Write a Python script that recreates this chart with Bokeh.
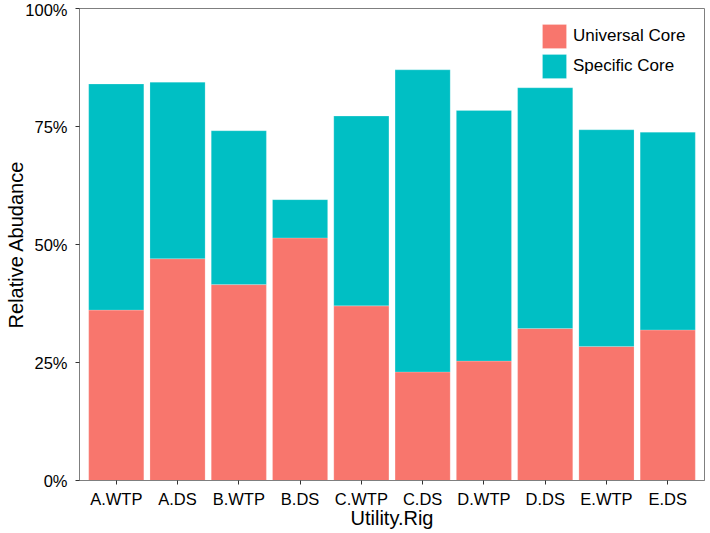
from bokeh.plotting import figure
from bokeh.models import (Range1d, FixedTicker, PrintfTickFormatter, ColumnDataSource, FactorRange,
                          Legend, LegendItem)
from bokeh.embed import file_html
from bokeh.resources import INLINE

categories = ["A.WTP", "A.DS", "B.WTP", "B.DS", "C.WTP", "C.DS", "D.WTP", "D.DS", "E.WTP", "E.DS"]
universal_core = [36.1, 47.0, 41.5, 51.4, 37.0, 23.0, 25.3, 32.2, 28.4, 31.9]
specific_core = [47.9, 37.4, 32.6, 8.1, 40.2, 64.0, 53.1, 51.0, 45.9, 41.9]
series_names = ["Universal Core", "Specific Core"]
series_colors = ["#F8766D", "#00BFC4"]
y_ticks = [0, 25, 50, 75, 100]
x_title = "Utility.Rig"
y_title = "Relative Abudance"

source = ColumnDataSource(dict(cat=categories, universal=universal_core, specific=specific_core))

FONT = "Liberation Sans"

p = figure(width=706, height=531, output_backend="svg", toolbar_location=None,
           x_range=FactorRange(*categories, range_padding=0.02),
           y_range=Range1d(0, 100))
p.min_border_left = 79
p.min_border_right = 2
p.min_border_top = 8
p.min_border_bottom = 51

renderers = p.vbar_stack(["universal", "specific"], x="cat", width=0.9, color=series_colors,
                         line_color="white", line_width=0.5, line_alpha=0.4, source=source)

legend = Legend(items=[LegendItem(label=series_names[i], renderers=[renderers[i]]) for i in range(2)])
legend.location = (460, 399)
legend.padding = 0
legend.spacing = 0
legend.margin = 0
legend.glyph_width = 30
legend.glyph_height = 30
legend.label_standoff = 4
legend.label_text_font = FONT
legend.label_text_font_size = "17px"
legend.label_text_color = "#000000"
legend.border_line_color = None
legend.background_fill_alpha = 0
p.add_layout(legend, "center")

p.xgrid.grid_line_color = None
p.ygrid.grid_line_color = None
p.outline_line_color = "#7f7f7f"
p.outline_line_width = 1

p.yaxis.ticker = FixedTicker(ticks=y_ticks)
p.yaxis.formatter = PrintfTickFormatter(format="%d%%")

for ax in (p.xaxis[0], p.yaxis[0]):
    ax.axis_line_color = "#7f7f7f"
    ax.major_tick_line_color = "#333333"
    ax.major_tick_in = 0
    ax.major_tick_out = 4
    ax.minor_tick_line_color = None
    ax.major_label_text_font = FONT
    ax.major_label_text_font_size = "16.5px"
    ax.major_label_text_color = "#000000"
    ax.axis_label_text_font = FONT
    ax.axis_label_text_font_size = "20px"
    ax.axis_label_text_font_style = "normal"
    ax.axis_label_text_color = "#000000"

p.xaxis.major_label_standoff = 5
p.xaxis.axis_label_standoff = -4
p.yaxis.major_label_standoff = 8
p.yaxis.axis_label_standoff = -5

p.xaxis.axis_label = x_title
p.yaxis.axis_label = y_title

open("out.html", "w").write(file_html(p, INLINE))
